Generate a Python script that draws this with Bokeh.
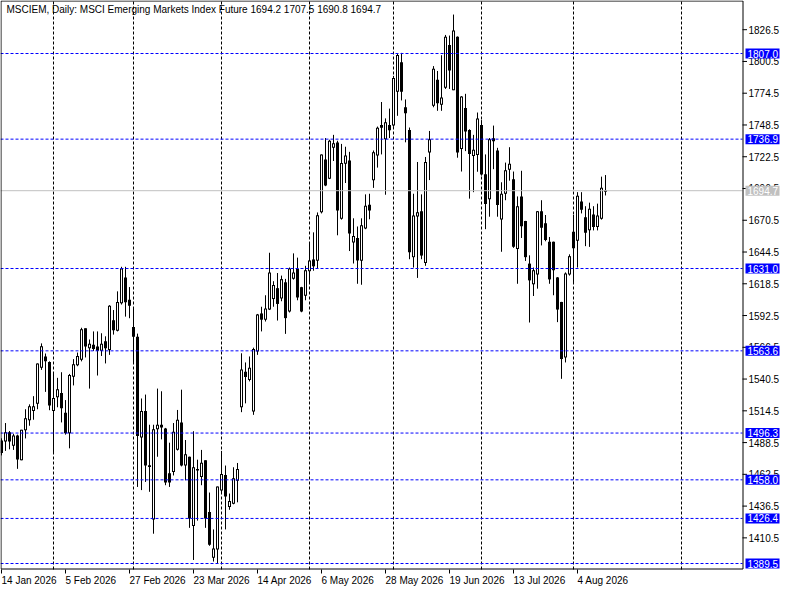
from bokeh.plotting import figure
from bokeh.models import ColumnDataSource, Range1d, Label
from bokeh.embed import file_html
from bokeh.resources import INLINE

# ---------------- data ----------------
opens = [1489.8, 1489.8, 1496.5, 1486.3, 1493.8, 1474.5, 1499.1, 1507.2, 1514.7, 1520.6,
         1550.1, 1558.6, 1554.1, 1514.7, 1526.0, 1528.6, 1512.5, 1496.5, 1542.9, 1552.2,
         1556.8, 1581.7, 1566.2, 1568.1, 1566.7, 1564.0, 1571.1, 1564.8, 1588.2, 1580.4,
         1602.9, 1623.3, 1605.1, 1582.8, 1574.7, 1493.0, 1513.9, 1469.5, 1426.0, 1499.9,
         1502.6, 1499.7, 1462.9, 1464.8, 1483.0, 1504.5, 1470.2, 1476.4, 1420.6, 1466.0,
         1460.8, 1473.7, 1431.3, 1394.6, 1401.3, 1449.6, 1461.6, 1436.1, 1438.8, 1457.6,
         1517.9, 1546.1, 1540.2, 1514.4, 1563.5, 1593.8, 1589.5, 1597.8, 1606.4, 1614.5,
         1606.9, 1619.3, 1596.2, 1623.0, 1630.5, 1615.3, 1609.1, 1629.2, 1638.0, 1637.8,
         1677.4, 1719.8, 1704.8, 1730.3, 1733.8, 1672.1, 1717.1, 1719.0, 1652.8, 1655.5,
         1637.8, 1664.1, 1682.8, 1703.7, 1723.9, 1748.0, 1737.2, 1748.0, 1748.5, 1776.2,
         1799.5, 1762.5, 1744.0, 1640.7, 1674.0, 1677.4, 1635.9, 1726.3, 1764.6, 1785.2,
         1765.4, 1779.4, 1813.6, 1777.4, 1820.4, 1729.2, 1761.9, 1744.0, 1723.6, 1724.4,
         1748.0, 1707.8, 1688.2, 1737.2, 1727.1, 1671.6, 1692.7, 1712.3, 1703.7, 1647.4,
         1689.5, 1669.4, 1634.6, 1618.5, 1626.5, 1677.4, 1667.6, 1652.5, 1652.5, 1623.3,
         1603.2, 1558.6, 1626.5, 1660.6, 1654.1, 1685.5, 1672.6, 1662.7, 1674.8, 1665.4,
         1672.1, 1694.2]
highs = [1492.0, 1504.5, 1498.0, 1495.7, 1495.0, 1499.0, 1515.8, 1519.8, 1526.5, 1553.3,
         1569.7, 1561.4, 1555.0, 1546.1, 1541.5, 1546.1, 1523.3, 1544.7, 1556.8, 1562.2,
         1582.5, 1582.0, 1572.9, 1579.5, 1579.5, 1578.0, 1575.5, 1601.0, 1597.0, 1612.3,
         1632.4, 1632.4, 1615.8, 1598.4, 1577.7, 1524.6, 1527.8, 1503.1, 1503.1, 1532.7,
         1530.5, 1500.5, 1488.4, 1504.5, 1515.2, 1531.8, 1490.6, 1477.0, 1497.8, 1474.5,
         1482.5, 1474.0, 1447.6, 1417.4, 1452.5, 1481.7, 1469.7, 1446.8, 1468.3, 1471.8,
         1561.6, 1554.1, 1559.0, 1566.2, 1593.8, 1599.7, 1609.1, 1643.9, 1620.6, 1627.3,
         1625.2, 1622.5, 1631.8, 1643.4, 1639.9, 1616.0, 1633.2, 1652.0, 1660.6, 1676.9,
         1724.4, 1737.8, 1736.4, 1740.4, 1735.6, 1733.0, 1730.7, 1726.5, 1672.1, 1665.4,
         1672.1, 1691.7, 1692.2, 1727.6, 1747.2, 1767.3, 1753.9, 1761.9, 1788.7, 1806.7,
         1807.5, 1769.4, 1746.4, 1692.2, 1718.2, 1691.7, 1722.3, 1743.6, 1796.7, 1792.7,
         1805.6, 1822.2, 1821.7, 1838.9, 1821.0, 1772.1, 1774.0, 1745.0, 1740.4, 1758.7,
         1752.5, 1724.4, 1737.8, 1748.0, 1729.8, 1701.6, 1717.7, 1730.3, 1710.4, 1690.0,
         1711.0, 1670.0, 1641.8, 1631.8, 1678.0, 1686.9, 1674.8, 1656.8, 1653.0, 1624.0,
         1603.7, 1627.8, 1642.6, 1674.8, 1693.5, 1693.5, 1682.0, 1684.9, 1682.0, 1684.1,
         1706.2, 1707.5]
lows = [1478.0, 1481.7, 1483.0, 1482.5, 1467.0, 1474.0, 1491.9, 1502.3, 1507.2, 1515.8,
        1548.0, 1530.0, 1515.0, 1480.4, 1517.4, 1505.0, 1495.0, 1483.8, 1535.3, 1551.0,
        1555.0, 1558.2, 1532.7, 1563.5, 1543.4, 1559.4, 1553.3, 1560.3, 1576.9, 1579.5,
        1601.5, 1591.6, 1590.3, 1552.8, 1452.2, 1449.6, 1456.3, 1448.2, 1413.9, 1476.9,
        1491.1, 1453.6, 1452.2, 1461.6, 1482.0, 1469.0, 1457.6, 1418.7, 1392.4, 1424.6,
        1453.6, 1418.7, 1404.0, 1391.1, 1389.2, 1448.0, 1417.4, 1433.5, 1438.0, 1439.6,
        1513.4, 1520.6, 1538.6, 1511.2, 1560.3, 1579.5, 1587.6, 1597.0, 1599.7, 1588.4,
        1604.2, 1577.5, 1595.0, 1621.9, 1605.0, 1595.2, 1605.0, 1619.8, 1629.2, 1631.4,
        1676.1, 1698.4, 1704.2, 1719.0, 1658.2, 1671.0, 1701.0, 1645.3, 1635.1, 1618.5,
        1617.7, 1663.2, 1671.3, 1697.0, 1713.6, 1724.4, 1691.4, 1737.8, 1747.0, 1756.0,
        1768.6, 1734.3, 1638.6, 1631.8, 1623.3, 1638.6, 1633.2, 1703.4, 1763.0, 1760.1,
        1760.1, 1778.0, 1778.0, 1777.0, 1721.7, 1710.4, 1727.1, 1688.2, 1693.5, 1710.2,
        1707.0, 1663.2, 1673.4, 1712.3, 1673.4, 1644.7, 1686.9, 1702.9, 1647.9, 1618.5,
        1656.0, 1637.2, 1586.8, 1608.5, 1614.5, 1649.9, 1653.3, 1618.5, 1609.1, 1587.1,
        1540.7, 1554.1, 1625.2, 1619.8, 1631.8, 1676.1, 1649.3, 1648.7, 1662.2, 1662.2,
        1671.0, 1690.8]
closes = [1480.4, 1496.5, 1489.8, 1493.8, 1475.0, 1498.6, 1508.0, 1517.9, 1517.9, 1552.8,
          1567.0, 1555.4, 1519.2, 1524.6, 1531.8, 1517.1, 1496.5, 1543.4, 1552.2, 1559.0,
          1580.9, 1567.5, 1568.9, 1565.6, 1564.0, 1568.9, 1566.2, 1600.2, 1580.9, 1603.2,
          1630.5, 1603.7, 1601.0, 1575.5, 1494.3, 1513.9, 1470.2, 1468.9, 1499.1, 1502.6,
          1501.3, 1456.3, 1456.3, 1497.0, 1506.7, 1470.2, 1478.5, 1426.7, 1467.8, 1466.5,
          1471.5, 1426.7, 1405.3, 1401.3, 1452.2, 1462.4, 1444.7, 1440.2, 1458.9, 1466.5,
          1548.0, 1542.6, 1549.3, 1564.8, 1593.0, 1589.5, 1597.8, 1627.3, 1617.1, 1602.4,
          1621.9, 1590.8, 1630.5, 1627.3, 1607.7, 1596.2, 1629.2, 1637.2, 1633.2, 1674.2,
          1723.9, 1699.4, 1735.1, 1733.2, 1678.8, 1716.9, 1723.1, 1660.0, 1657.3, 1638.0,
          1666.0, 1682.0, 1678.8, 1725.7, 1745.8, 1746.6, 1750.4, 1744.5, 1786.6, 1805.4,
          1776.2, 1758.5, 1644.7, 1674.0, 1676.6, 1642.0, 1717.7, 1736.4, 1794.1, 1766.7,
          1770.5, 1820.4, 1793.5, 1825.5, 1726.3, 1771.3, 1743.6, 1725.2, 1727.9, 1753.3,
          1708.3, 1684.2, 1736.4, 1735.6, 1683.3, 1691.7, 1711.0, 1716.3, 1649.3, 1681.5,
          1666.0, 1640.7, 1621.7, 1629.2, 1677.4, 1664.8, 1654.7, 1622.5, 1630.0, 1597.8,
          1557.3, 1626.5, 1640.7, 1647.9, 1690.1, 1679.6, 1660.6, 1679.6, 1665.4, 1674.0,
          1696.8, 1694.7]

tick_bars = [0, 16, 32, 48, 64, 80, 96, 112, 128, 144]
tick_labels = ["14 Jan 2026", "5 Feb 2026", "27 Feb 2026", "23 Mar 2026", "14 Apr 2026",
               "6 May 2026", "28 May 2026", "19 Jun 2026", "13 Jul 2026", "4 Aug 2026"]
grid_bars = [13, 33, 55, 77, 98, 120, 143, 170]
price_ticks = [1410.5, 1436.5, 1462.5, 1488.5, 1514.5, 1540.5, 1566.5, 1592.5, 1618.5,
               1644.5, 1670.5, 1696.5, 1722.5, 1748.5, 1774.5, 1800.5, 1826.5]
level_prices = [1807.0, 1736.9, 1631.0, 1563.6, 1496.3, 1458.0, 1426.4, 1389.5]
last_price = 1694.7
title_text = "MSCIEM, Daily:  MSCI Emerging Markets Index Future  1694.2 1707.5 1690.8 1694.7"

# ---------------- layout constants ----------------
FONT = "Liberation Sans"
W, H = 790, 590
BOTTOM = 21          # date scale strip
PANEL = 48           # price scale strip at the right
PX_PER_BAR = 4
CHART_H = H - BOTTOM
X0 = -0.25
XPX = 1.0 / PX_PER_BAR                  # data units per pixel (x)
XB = X0 + (W - PANEL) * XPX             # chart border (price-scale edge)
XE = X0 + W * XPX                       # right end of the canvas
Y0, Y1 = 1384.6, 1850.4                 # visible price window
YPX = (Y1 - Y0) / CHART_H               # data units per pixel (y)
YB = Y0 - BOTTOM * YPX                  # bottom of the canvas

p = figure(width=W, height=H, output_backend="svg", toolbar_location=None,
           x_range=Range1d(X0, XE), y_range=Range1d(YB, Y1),
           x_axis_location=None, y_axis_location=None,
           min_border_left=0, min_border_top=0, min_border_right=0, min_border_bottom=0)
p.background_fill_color = "white"
p.border_fill_color = "white"
p.outline_line_color = None
p.xgrid.grid_line_color = None
p.ygrid.grid_line_color = None

idx = list(range(len(opens)))
body_top = [max(opens[i], closes[i]) for i in idx]
body_bot = [min(opens[i], closes[i]) for i in idx]
up = [i for i in idx if closes[i] >= opens[i]]
holl = [i for i in up if body_top[i] - body_bot[i] > 1.2 * YPX]

src = ColumnDataSource(dict(x=idx, h=highs, l=lows,
                            t=[v + 0.5 * YPX for v in body_top],
                            b=[v - 0.5 * YPX for v in body_bot]))
src_in = ColumnDataSource(dict(x=holl,
                               t=[body_top[i] - 0.5 * YPX for i in holl],
                               b=[body_bot[i] + 0.5 * YPX for i in holl]))

# vertical grid at month starts
ng = len(grid_bars)
p.segment(x0=grid_bars, x1=grid_bars, y0=[Y0] * ng, y1=[Y1] * ng,
          line_color="black", line_width=1, line_dash="3 2")

# candles: wick, solid body, white interior for bullish bars
p.segment(x0="x", y0="h", x1="x", y1="l", source=src, line_color="black", line_width=1)
p.vbar(x="x", width=0.75, top="t", bottom="b", source=src,
       fill_color="black", line_color=None)
p.vbar(x="x", width=0.25, top="t", bottom="b", source=src_in,
       fill_color="white", line_color=None)

# horizontal levels and bid line
n = len(level_prices)
p.segment(x0=[X0] * n, x1=[XB] * n, y0=level_prices, y1=level_prices,
          line_color="#0000ff", line_width=1, line_dash="3 2")
p.segment(x0=[X0], x1=[XB], y0=[last_price], y1=[last_price],
          line_color="#c0c0c0", line_width=1)

# chart border
p.quad(left=[X0 + 0.5 * XPX], right=[XB + 0.5 * XPX], bottom=[Y0 + 0.5 * YPX],
       top=[Y1 - 0.5 * YPX], fill_color=None, line_color="black", line_width=1)

# date scale
nt = len(tick_bars)
p.segment(x0=tick_bars, x1=tick_bars, y0=[Y0] * nt, y1=[Y0 - 4 * YPX] * nt,
          line_color="black", line_width=1)
p.text(x=tick_bars, y=[Y0] * nt, text=tick_labels, x_offset=0, y_offset=5,
       text_align="left", text_baseline="top", text_color="black",
       text_font={"value": FONT}, text_font_size="10px")

# price scale
m = len(price_ticks)
p.segment(x0=[XB] * m, x1=[XB + 4.5 * XPX] * m, y0=price_ticks, y1=price_ticks,
          line_color="black", line_width=1)
p.text(x=[XB] * m, y=price_ticks, text=["%.1f" % v for v in price_ticks],
       x_offset=6, text_align="left", text_baseline="middle", text_color="black",
       text_font={"value": FONT}, text_font_size="10px")

# price tags
tag_prices = level_prices + [last_price]
tag_colors = ["#0000ff"] * n + ["#c0c0c0"]
p.quad(left=[XB + 3 * XPX] * (n + 1), right=[XB + 37 * XPX] * (n + 1),
       bottom=[v - 5 * YPX for v in tag_prices], top=[v + 5 * YPX for v in tag_prices],
       fill_color=tag_colors, line_color=None)
p.text(x=[XB] * (n + 1), y=tag_prices, text=["%.1f" % v for v in tag_prices],
       x_offset=5, text_align="left", text_baseline="middle", text_color="white",
       text_font={"value": FONT}, text_font_size="10px")

# header
p.add_layout(Label(x=X0, y=Y1, x_offset=6, y_offset=-3, text=title_text,
                   text_align="left", text_baseline="top", text_color="black",
                   text_font=FONT, text_font_size="10px"))

open("out.html", "w").write(file_html(p, INLINE))
